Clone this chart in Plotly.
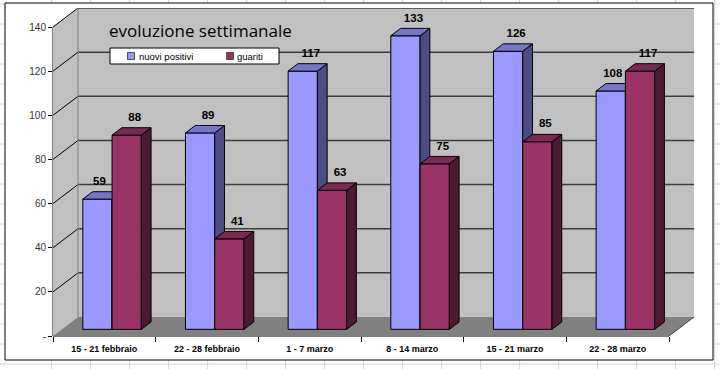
import plotly.graph_objects as go

# ---------------- data ----------------
categories = ["15 - 21 febbraio", "22 - 28 febbraio", "1 - 7 marzo",
              "8 - 14 marzo", "15 - 21 marzo", "22 - 28 marzo"]
nuovi_positivi = [59, 89, 117, 133, 126, 108]
guariti = [88, 41, 63, 75, 85, 117]
series_names = ["nuovi positivi", "guariti"]
y_tick_values = [0, 20, 40, 60, 80, 100, 120, 140]
y_tick_labels = ["-", "20", "40", "60", "80", "100", "120", "140"]
title_text = "evoluzione settimanale"

# ---------------- geometry / style ----------------
W, H = 720, 369
L, R, T, B = 53, 25, 8, 33
PW, PH = W - L - R, H - T - B
CAT_PX = 102.67           # pixels per category
Y_PX = 2.207              # pixels per unit value
n = len(categories)
XMIN = -0.5
XMAX_FRONT = n - 0.5
YMAX = y_tick_values[-1]
DX = 25 / CAT_PX          # depth of the 3D box (x units)
DY = 19 / Y_PX            # depth of the 3D box (y units)
x_range = [XMIN, XMIN + PW / CAT_PX]
y_range = [0, YMAX + DY]
F0, F1 = 0.35, 0.74       # bar front/back depth fractions
BW = 0.285                # bar width in category units
ADJ = -0.01
LABEL_DX = 8 / CAT_PX       # data-label offset from front-face centre
LABEL_DX_TIGHT = 2 / CAT_PX # offset used when the bar to the right is taller
LABEL_DY = 4 / Y_PX         # data-label lift above the bar's top face

BLUE = dict(front="#9999FF", top="#7575CC", side="#4D4D85")
RED = dict(front="#993366", top="#7A2952", side="#4D1A33")


def px_x(px):
    return (px - L) / PW


def px_y(py):
    return (H - B - py) / PH


def faces(values, offset, right_neighbour=None):
    sx, sy, tx, ty, lx, ly = [], [], [], [], [], []
    ddx, ddy = (F1 - F0) * DX, (F1 - F0) * DY
    for i, v in enumerate(values):
        xc = i + offset
        xl, xr = xc - BW / 2, xc + BW / 2
        b = F0 * DY
        t = v + F0 * DY
        sx += [xr, xr + ddx, xr + ddx, xr, xr, None]
        sy += [b, b + ddy, t + ddy, t, b, None]
        tx += [xl, xl + ddx, xr + ddx, xr, xl, None]
        ty += [t, t + ddy, t + ddy, t, t, None]
        tight = right_neighbour is not None and right_neighbour[i] > v
        lx.append(xc + (LABEL_DX_TIGHT if tight else LABEL_DX))
        ly.append(t + ddy + LABEL_DY)
    return sx, sy, tx, ty, lx, ly


fig = go.Figure()


def add_series(values, name, col, offset, xa, ya, right_neighbour=None):
    sx, sy, tx, ty, lx, ly = faces(values, offset, right_neighbour)
    fig.add_trace(go.Bar(
        x=[i + offset for i in range(n)], y=values, base=F0 * DY, width=BW,
        name=name, marker=dict(color=col["front"], line=dict(color="#000000", width=1)),
        xaxis=xa, yaxis=ya, hoverinfo="skip", showlegend=False))
    fig.add_trace(go.Scatter(
        x=sx, y=sy, mode="lines", fill="toself", fillcolor=col["side"],
        line=dict(color="#000000", width=1), xaxis=xa, yaxis=ya,
        hoverinfo="skip", showlegend=False))
    fig.add_trace(go.Scatter(
        x=tx, y=ty, mode="lines", fill="toself", fillcolor=col["top"],
        line=dict(color="#000000", width=1), xaxis=xa, yaxis=ya,
        hoverinfo="skip", showlegend=False))
    fig.add_trace(go.Scatter(
        x=lx, y=ly, mode="text", text=[str(v) for v in values],
        textposition="top center",
        textfont=dict(family="Liberation Sans", size=11.5, color="#000000", weight="bold"),
        xaxis=xa, yaxis=ya, hoverinfo="skip", showlegend=False))


center_shift = F0 * DX + ADJ
add_series(nuovi_positivi, series_names[0], BLUE, center_shift - BW / 2, "x", "y",
           right_neighbour=guariti)
add_series(guariti, series_names[1], RED, center_shift + BW / 2, "x2", "y2")

shapes = []
# spreadsheet grid around the chart
for k in range(20):
    xp = 51.6 + 39 * k
    if xp <= W:
        shapes.append(dict(type="line", xref="paper", yref="paper",
                           x0=px_x(xp), x1=px_x(xp), y0=px_y(0), y1=px_y(H),
                           line=dict(color="#D6D6D6", width=1), layer="below"))
for k in range(20):
    yp = 4 + 20 * k
    if yp <= H:
        shapes.append(dict(type="line", xref="paper", yref="paper",
                           x0=px_x(0), x1=px_x(W), y0=px_y(yp), y1=px_y(yp),
                           line=dict(color="#D6D6D6", width=1), layer="below"))
# chart frame
shapes.append(dict(type="rect", xref="paper", yref="paper",
                   x0=px_x(5), x1=px_x(713), y0=px_y(360), y1=px_y(3),
                   fillcolor="#FFFFFF", line=dict(color="#000000", width=1), layer="below"))

# walls and floor
shapes.append(dict(type="path", xref="x", yref="y", layer="below",
                   path=f"M {XMIN},0 L {XMIN + DX},{DY} L {XMIN + DX},{YMAX + DY} L {XMIN},{YMAX} Z",
                   fillcolor="#C0C0C0", line=dict(width=0)))
shapes.append(dict(type="rect", xref="x", yref="y", layer="below",
                   x0=XMIN + DX, x1=XMAX_FRONT + DX, y0=DY, y1=YMAX + DY,
                   fillcolor="#C0C0C0", line=dict(width=0)))
shapes.append(dict(type="path", xref="x", yref="y", layer="below",
                   path=f"M {XMIN},0 L {XMAX_FRONT},0 L {XMAX_FRONT + DX},{DY} L {XMIN + DX},{DY} Z",
                   fillcolor="#808080", line=dict(width=0)))
for v in y_tick_values[1:]:
    shapes.append(dict(type="line", xref="x", yref="y", layer="below",
                       x0=XMIN + DX, x1=XMAX_FRONT + DX, y0=v + DY, y1=v + DY,
                       line=dict(color="#3C3C3C", width=1.5)))
    shapes.append(dict(type="line", xref="x", yref="y", layer="below",
                       x0=XMIN, x1=XMIN + DX, y0=v, y1=v + DY,
                       line=dict(color="#000000", width=1)))
shapes.append(dict(type="line", xref="x", yref="y", layer="below",
                   x0=XMIN + DX, x1=XMIN + DX, y0=DY, y1=YMAX + DY,
                   line=dict(color="#808080", width=1)))
shapes.append(dict(type="line", xref="x", yref="y", layer="below",
                   x0=XMAX_FRONT, x1=XMAX_FRONT + DX, y0=0, y1=DY,
                   line=dict(color="#404040", width=1)))
# front axis lines
shapes.append(dict(type="line", xref="paper", yref="y", layer="below",
                   x0=0, x1=0, y0=0, y1=YMAX, line=dict(color="#000000", width=1)))
shapes.append(dict(type="line", xref="x", yref="paper", layer="below",
                   x0=XMIN, x1=XMAX_FRONT, y0=0, y1=0, line=dict(color="#000000", width=1)))

# legend (drawn manually to match the compact Excel legend)
LEG_X0, LEG_X1, LEG_Y0, LEG_Y1 = 110, 279, 48, 64
shapes.append(dict(type="rect", xref="paper", yref="paper", layer="above",
                   x0=px_x(LEG_X0), x1=px_x(LEG_X1), y0=px_y(LEG_Y1), y1=px_y(LEG_Y0),
                   fillcolor="#FFFFFF", line=dict(color="#000000", width=1)))
legend_items = [(131, 137, BLUE["front"]), (230, 235, RED["front"])]
annotations = []
ymid = (LEG_Y0 + LEG_Y1) / 2
for (sq_cx, tx_x, colr), nm in zip(legend_items, series_names):
    shapes.append(dict(type="rect", xref="paper", yref="paper", layer="above",
                       x0=px_x(sq_cx - 3.5), x1=px_x(sq_cx + 3.5),
                       y0=px_y(ymid + 3.5), y1=px_y(ymid - 3.5),
                       fillcolor=colr, line=dict(color="#333333", width=0.8)))
    annotations.append(dict(text=nm, xref="paper", yref="paper", x=px_x(tx_x), y=px_y(ymid),
                            xanchor="left", yanchor="middle", showarrow=False,
                            font=dict(family="Liberation Sans", size=9.5, color="#000000")))

annotations.append(dict(text=title_text, xref="paper", yref="paper",
                        x=px_x(107), y=px_y(31), xanchor="left", yanchor="middle",
                        showarrow=False,
                        font=dict(family="Open Sans", size=17, color="#000000")))

fig.update_layout(
    width=W, height=H,
    margin=dict(l=L, r=R, t=T, b=B, pad=0),
    paper_bgcolor="#FFFFFF", plot_bgcolor="rgba(0,0,0,0)",
    barmode="overlay",
    showlegend=False,
    shapes=shapes,
    annotations=annotations,
    font=dict(family="Liberation Sans", color="#000000"),
    xaxis=dict(range=x_range, tickmode="array",
               tickvals=[i - 0.5 for i in range(n + 1)], ticks="outside", ticklen=5,
               tickcolor="#000000", showticklabels=False, showgrid=False,
               zeroline=False, showline=False, fixedrange=True),
    xaxis2=dict(range=x_range, overlaying="x", side="bottom", anchor="y2",
                tickmode="array", tickvals=list(range(n)), ticktext=categories,
                ticks="", ticklabelstandoff=6,
                tickfont=dict(family="Liberation Sans", size=9, color="#000000", weight="bold"),
                showgrid=False, zeroline=False, showline=False, fixedrange=True),
    yaxis=dict(range=y_range, tickmode="array", tickvals=y_tick_values,
               ticktext=y_tick_labels, ticks="outside", ticklen=4, tickcolor="#000000",
               tickfont=dict(family="Liberation Sans", size=10, color="#333333"),
               showgrid=False, zeroline=False, showline=False, fixedrange=True),
    yaxis2=dict(range=y_range, overlaying="y", anchor="x2", visible=False,
                fixedrange=True),
)

fig.write_html("out.html", config={"displayModeBar": False},
               post_script="document.body.style.margin='0';document.body.style.overflow='hidden';")
